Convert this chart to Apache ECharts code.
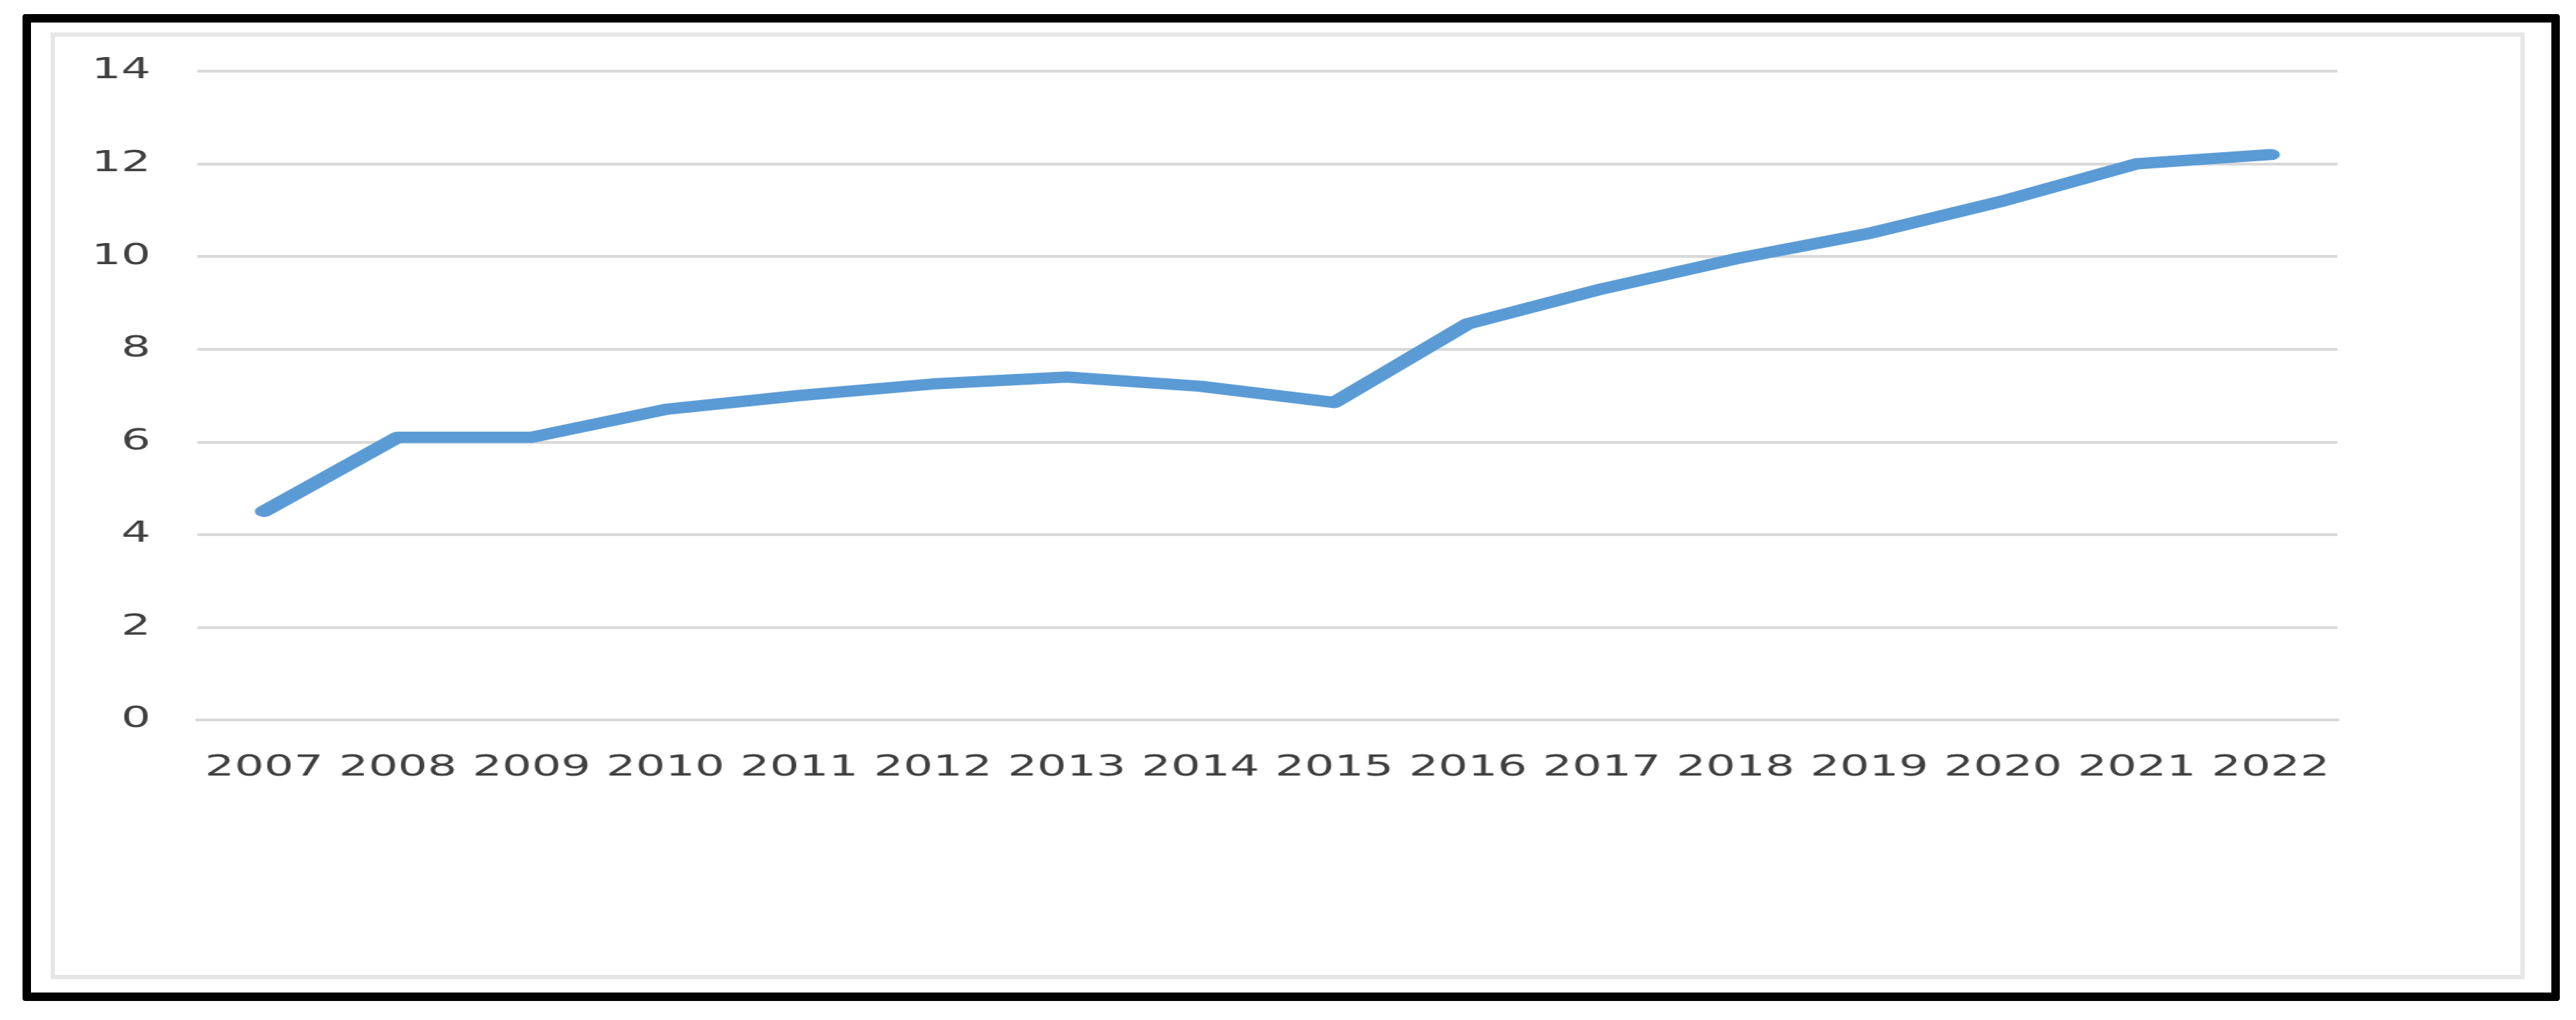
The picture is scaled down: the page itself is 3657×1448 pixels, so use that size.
<!DOCTYPE html>
<html>
<head>
<meta charset="utf-8">
<script src="https://cdn.jsdelivr.net/npm/echarts@6/dist/echarts.min.js"></script>
<style>
  html, body { margin: 0; padding: 0; background: #fff; }
  #page { position: relative; width: 3657px; height: 1448px; overflow: hidden; }
  #frame { position: absolute; left: 32px; top: 20px; width: 3578px; height: 1377px; border: 12px solid #000; border-radius: 4px; }
  #inner { position: absolute; left: 72px; top: 46px; width: 3500px; height: 1332px; border: 6px solid #e6e6e6; }
  #chart { position: absolute; left: 0; top: 0; height: 1448px; transform-origin: 0 0; }
</style>
</head>
<body>
<div id="page">
  <div id="frame"></div>
  <div id="inner"></div>
  <div id="chart"></div>
</div>
<script>
// the source picture is a horizontally stretched chart, so draw narrow and stretch it
const STRETCH = 1.65;

const years = ['2007', '2008', '2009', '2010', '2011', '2012', '2013', '2014',
  '2015', '2016', '2017', '2018', '2019', '2020', '2021', '2022'];
const values = [4.5, 6.1, 6.1, 6.7, 7.0, 7.25, 7.4, 7.2,
  6.85, 8.55, 9.3, 9.95, 10.5, 11.2, 12.0, 12.2];
const yTicks = [0, 2, 4, 6, 8, 10, 12, 14];

const el = document.getElementById('chart');
el.style.width = (3657 / STRETCH) + 'px';
el.style.transform = `scaleX(${STRETCH})`;

const chart = echarts.init(el, null, { renderer: 'canvas' });
const labelStyle = { color: '#404040', fontFamily: 'DejaVu Sans', fontSize: 40 };

chart.setOption({
  animation: false,
  backgroundColor: 'transparent',
  grid: {
    left: 280 / STRETCH,
    right: (3657 - 3319) / STRETCH,
    top: 101,
    bottom: 1448 - 1022,
    containLabel: false
  },
  xAxis: {
    type: 'category',
    data: years,
    boundaryGap: true,
    axisTick: { show: false },
    axisLine: { show: true, lineStyle: { color: '#d9d9d9', width: 4 } },
    axisLabel: Object.assign({ margin: 49, interval: 0 }, labelStyle)
  },
  yAxis: {
    type: 'value',
    min: yTicks[0],
    max: yTicks[yTicks.length - 1],
    interval: 2,
    axisLine: { show: false },
    axisTick: { show: false },
    axisLabel: Object.assign({ margin: 40 }, labelStyle),
    splitLine: { lineStyle: { color: '#d9d9d9', width: 4 } }
  },
  series: [{
    type: 'line',
    data: values,
    symbol: 'none',
    lineStyle: { color: '#5b9bd5', width: 16, cap: 'round', join: 'round' }
  }]
});
</script>
</body>
</html>
